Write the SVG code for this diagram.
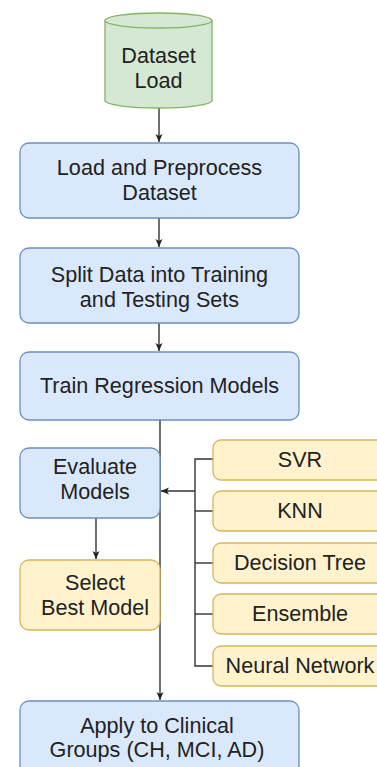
<svg xmlns="http://www.w3.org/2000/svg" width="377" height="767" viewBox="0 0 377 767">
<style>
.blue{fill:#dae8fc;stroke:#6c8ebf;stroke-width:1.3}
.orange{fill:#fff2cc;stroke:#d6b656;stroke-width:1.3}
.green{fill:#d5e8d4;stroke:#82b366;stroke-width:1.3}
text{font-family:"Liberation Sans",Arial,sans-serif;font-size:21.6px;fill:#222;text-anchor:middle}
.edge{fill:none;stroke:#333;stroke-width:1.4}
</style>
<defs>
<marker id="arr" markerUnits="userSpaceOnUse" markerWidth="10" markerHeight="10" viewBox="0 0 10 10" refX="9" refY="5" orient="auto">
<path d="M1,1.5 L9,5 L1,8.5 L3,5 Z" fill="#222"/>
</marker>
</defs>
<rect width="377" height="767" fill="#ffffff"/>
<g id="connectors">
<path class="edge" d="M159,108 V142" marker-end="url(#arr)"/>
<path class="edge" d="M159,218 V247" marker-end="url(#arr)"/>
<path class="edge" d="M159,323 V351" marker-end="url(#arr)"/>
<path class="edge" d="M160,420 V700" marker-end="url(#arr)"/>
<path class="edge" d="M96,518 V559" marker-end="url(#arr)"/>
<path class="edge" d="M195,491 H161" marker-end="url(#arr)"/>
<path class="edge" d="M213,459 H195 V666 H213"/>
<path class="edge" d="M195,511 H213"/>
<path class="edge" d="M195,563 H213"/>
<path class="edge" d="M195,614 H213"/>
</g>
<g id="dataset-load">
<path class="green" d="M105,20.5 A53.5,7.5 0 0 1 212,20.5 V100.5 A53.5,7.5 0 0 1 105,100.5 Z"/>
<path class="green" d="M105,20.5 A53.5,7.5 0 0 0 212,20.5" fill="none"/>
<text x="158.5" y="63">Dataset</text>
<text x="158.5" y="88">Load</text>
</g>
<g id="load-preprocess">
<rect class="blue" x="20" y="143" width="279" height="75" rx="9"/>
<text x="159.5" y="175">Load and Preprocess</text>
<text x="159.5" y="200">Dataset</text>
</g>
<g id="split-data">
<rect class="blue" x="20" y="248" width="279" height="75" rx="9"/>
<text x="159.5" y="282">Split Data into Training</text>
<text x="159.5" y="307">and Testing Sets</text>
</g>
<g id="train-models">
<rect class="blue" x="20" y="352" width="279" height="68" rx="9"/>
<text x="159.5" y="393">Train Regression Models</text>
</g>
<g id="evaluate-models">
<rect class="blue" x="20" y="448" width="140" height="70" rx="9"/>
<text x="95" y="474">Evaluate</text>
<text x="95" y="499">Models</text>
</g>
<g id="select-best">
<rect class="orange" x="20" y="560" width="140" height="70" rx="9"/>
<text x="95" y="590">Select</text>
<text x="95" y="615">Best Model</text>
</g>
<g id="svr">
<rect class="orange" x="213" y="440" width="180" height="40" rx="8"/>
<text x="300" y="467">SVR</text>
</g>
<g id="knn">
<rect class="orange" x="213" y="491" width="180" height="40" rx="8"/>
<text x="300" y="518">KNN</text>
</g>
<g id="decision-tree">
<rect class="orange" x="213" y="543" width="180" height="40" rx="8"/>
<text x="300" y="570">Decision Tree</text>
</g>
<g id="ensemble">
<rect class="orange" x="213" y="594" width="180" height="40" rx="8"/>
<text x="300" y="621">Ensemble</text>
</g>
<g id="neural-network">
<rect class="orange" x="213" y="646" width="180" height="40" rx="8"/>
<text x="300" y="673">Neural Network</text>
</g>
<g id="apply-clinical">
<rect class="blue" x="20" y="701" width="279" height="76" rx="9"/>
<text x="157" y="733">Apply to Clinical</text>
<text x="157" y="757">Groups (CH, MCI, AD)</text>
</g>
</svg>
